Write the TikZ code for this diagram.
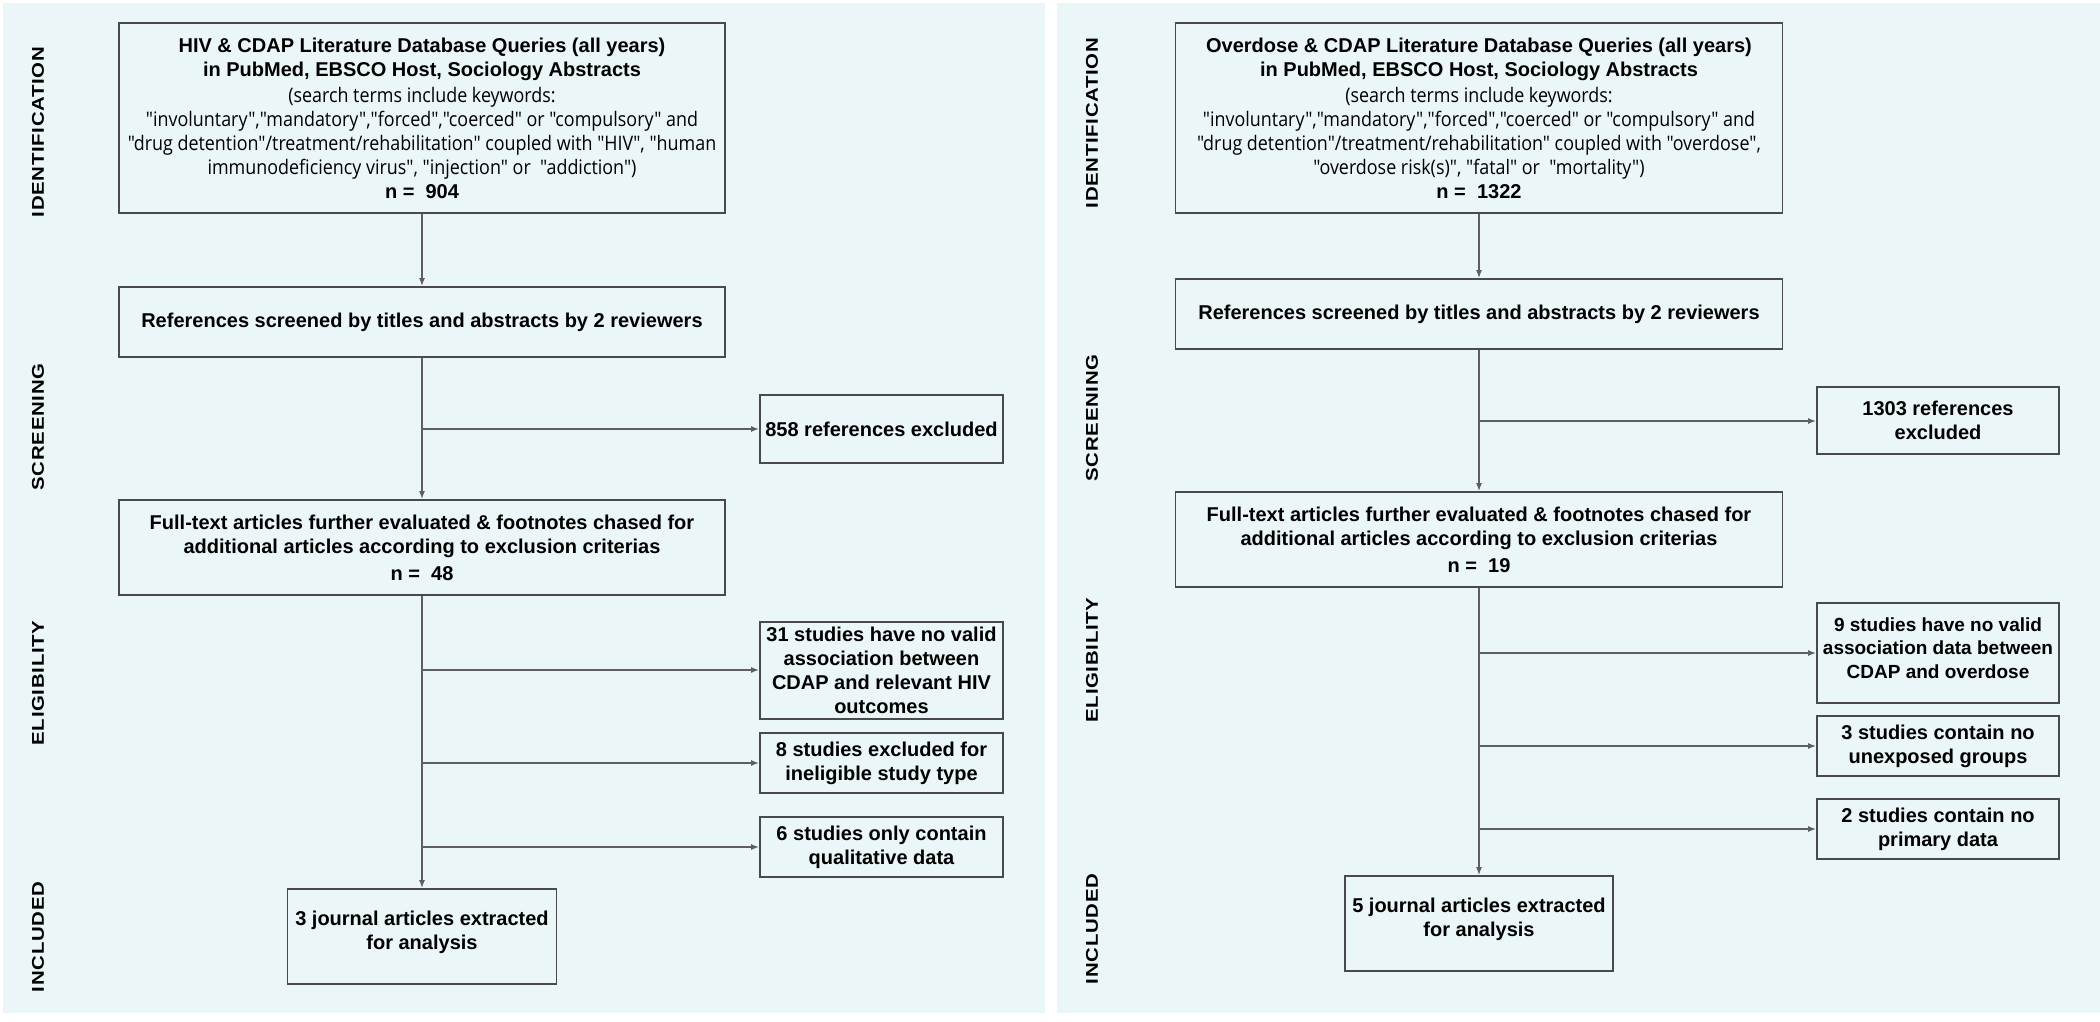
\documentclass[tikz,border=0pt]{standalone}
\usepackage{fontspec}
\setmainfont{Open Sans}
\newfontfamily\titlefont{Liberation Sans}
\newfontfamily\kwfont{Open Sans}[FakeStretch=0.895]
\newfontfamily\phasefont{Liberation Sans}[FakeStretch=1.2,LetterSpace=4]
\newcommand\kwtext{\kwfont\mdseries}
\usepackage{tikz}
\usetikzlibrary{positioning,arrows.meta}
\definecolor{panelbg}{RGB}{234,246,248}
\definecolor{boxline}{RGB}{74,74,74}
\definecolor{flowline}{RGB}{95,95,95}

\begin{document}
\begin{tikzpicture}[
    x=1pt, y=-1pt,
    box/.style={draw=boxline, line width=1.8, fill=panelbg, align=center, inner sep=0pt,
        font=\titlefont\bfseries\fontsize{20}{24}\selectfont},
    phase/.style={rotate=90, font=\phasefont\bfseries\fontsize{17}{17}\selectfont},
    flow/.style={draw=flowline, line width=1.4, -{Latex[length=8pt,width=6pt]}}
]
\useasboundingbox (0,0) rectangle (2100,1021);
\fill[panelbg] (3,3) rectangle (1045,1013);
\fill[panelbg] (1057,3) rectangle (2100,1013);

\node[phase] (phIdL) at (38,132) {IDENTIFICATION};
\node[phase] (phScL) at (38,427) {SCREENING};
\node[phase] (phElL) at (38,683) {ELIGIBILITY};
\node[phase] (phInL) at (38,937) {INCLUDED};

\node[box, minimum width=606, minimum height=190] (idL) at (422,118)
    {HIV \& CDAP Literature Database Queries (all years)\\
     in PubMed, EBSCO Host, Sociology Abstracts\\[2pt]
     \kwtext (search terms include keywords:\\
     \kwtext "involuntary","mandatory","forced","coerced" or "compulsory" and\\
     \kwtext "drug detention"/treatment/rehabilitation" coupled with "HIV", "human\\
     \kwtext immunodeficiency virus", "injection" or\ \ "addiction")\\
     n =\ \ 904};
\node[box, minimum width=606, minimum height=70] (scrL) at (422,322)
    {References screened by titles and abstracts by 2 reviewers};
\node[box, minimum width=243, minimum height=68] (exL1) at (881.5,429)
    {858 references excluded};
\node[box, minimum width=606, minimum height=95] (fullL) at (422,547.5)
    {Full-text articles further evaluated \& footnotes chased for\\
     additional articles according to exclusion criterias\\[3pt]
     n =\ \ 48};
\node[box, minimum width=243, minimum height=97] (exL2) at (881.5,670.5)
    {31 studies have no valid\\association between\\CDAP and relevant HIV\\outcomes};
\node[box, minimum width=243, minimum height=60] (exL3) at (881.5,763)
    {8 studies excluded for\\ineligible study type};
\node[box, minimum width=243, minimum height=60] (exL4) at (881.5,847)
    {6 studies only contain\\qualitative data};
\node[box, minimum width=269, minimum height=95, text depth=12pt] (incL) at (422,936.5)
    {3 journal articles extracted\\for analysis};

\coordinate (bL1) at (422,429);
\coordinate (bL2) at (422,670);
\coordinate (bL3) at (422,763);
\coordinate (bL4) at (422,847);

\draw[flow] (idL) -- (scrL);
\draw[flow] (scrL) -- (fullL);
\draw[flow] (fullL) -- (incL);
\draw[flow] (bL1) -- (bL1 -| exL1.west);
\draw[flow] (bL2) -- (bL2 -| exL2.west);
\draw[flow] (bL3) -- (bL3 -| exL3.west);
\draw[flow] (bL4) -- (bL4 -| exL4.west);

\node[phase] (phIdR) at (1092,123) {IDENTIFICATION};
\node[phase] (phScR) at (1092,418) {SCREENING};
\node[phase] (phElR) at (1092,660) {ELIGIBILITY};
\node[phase] (phInR) at (1092,929) {INCLUDED};

\node[box, minimum width=607, minimum height=190] (idR) at (1479,118)
    {Overdose \& CDAP Literature Database Queries (all years)\\
     in PubMed, EBSCO Host, Sociology Abstracts\\[2pt]
     \kwtext (search terms include keywords:\\
     \kwtext "involuntary","mandatory","forced","coerced" or "compulsory" and\\
     \kwtext "drug detention"/treatment/rehabilitation" coupled with "overdose",\\
     \kwtext "overdose risk(s)", "fatal" or\ \ "mortality")\\
     n =\ \ 1322};
\node[box, minimum width=607, minimum height=70] (scrR) at (1479,314)
    {References screened by titles and abstracts by 2 reviewers};
\node[box, minimum width=242, minimum height=67] (exR1) at (1938,420.5)
    {1303 references\\excluded};
\node[box, minimum width=607, minimum height=95] (fullR) at (1479,539.5)
    {Full-text articles further evaluated \& footnotes chased for\\
     additional articles according to exclusion criterias\\[3pt]
     n =\ \ 19};
\node[box, minimum width=242, minimum height=100, text depth=10pt,
      font=\titlefont\bfseries\fontsize{19}{23.5}\selectfont] (exR2) at (1938,653)
    {9 studies have no valid\\association data between\\CDAP and overdose};
\node[box, minimum width=242, minimum height=60] (exR3) at (1938,746)
    {3 studies contain no\\unexposed groups};
\node[box, minimum width=242, minimum height=60] (exR4) at (1938,829)
    {2 studies contain no\\primary data};
\node[box, minimum width=268, minimum height=95, text depth=12pt] (incR) at (1479,923.5)
    {5 journal articles extracted\\for analysis};

\coordinate (bR1) at (1479,421);
\coordinate (bR2) at (1479,653);
\coordinate (bR3) at (1479,746);
\coordinate (bR4) at (1479,829);

\draw[flow] (idR) -- (scrR);
\draw[flow] (scrR) -- (fullR);
\draw[flow] (fullR) -- (incR);
\draw[flow] (bR1) -- (bR1 -| exR1.west);
\draw[flow] (bR2) -- (bR2 -| exR2.west);
\draw[flow] (bR3) -- (bR3 -| exR3.west);
\draw[flow] (bR4) -- (bR4 -| exR4.west);
\end{tikzpicture}
\end{document}
